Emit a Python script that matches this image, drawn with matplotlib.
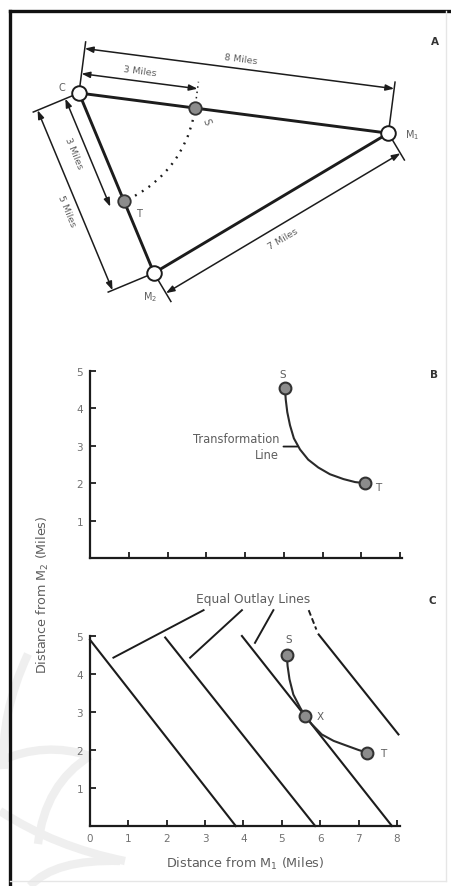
import numpy as np
import matplotlib
matplotlib.use("Agg")
import matplotlib.pyplot as plt
from matplotlib.patches import Arc, PathPatch
from matplotlib.path import Path
from matplotlib.lines import Line2D

# -----------------------------
# Data
# -----------------------------
# panel A: road distances (miles)
dist_c_m1 = 8
dist_c_m2 = 5
dist_m1_m2 = 7
dist_c_s = 3
dist_c_t = 3

# panel B: transformation line (distance from M1, distance from M2)
trans_x = [5.03, 5.05, 5.09, 5.16, 5.26, 5.42, 5.63, 5.89, 6.19, 6.54, 6.84, 7.10]
trans_y = [4.55, 4.24, 3.90, 3.55, 3.20, 2.90, 2.63, 2.42, 2.24, 2.11, 2.03, 2.00]

# panel C: transformation line and equal outlay lines
curve_x = [5.13, 5.15, 5.20, 5.30, 5.48, 5.61, 5.78, 6.04, 6.35, 6.70, 7.00, 7.22]
curve_y = [4.49, 4.21, 3.86, 3.46, 3.11, 2.89, 2.68, 2.41, 2.24, 2.11, 2.00, 1.93]
point_names = ["S", "X", "T"]
point_x = [5.13, 5.61, 7.22]
point_y = [4.49, 2.89, 1.93]

outlay_x0 = [0.0, 1.96, 3.96, 5.96]
outlay_y0 = [4.90, 4.96, 5.00, 5.04]
outlay_x1 = [3.80, 5.87, 7.87, 8.04]
outlay_y1 = [0.0, 0.0, 0.0, 2.41]

leader_x0 = [2.96, 3.96, 4.78, 5.70]
leader_y0 = [5.68, 5.68, 5.68, 5.68]
leader_x1 = [0.61, 2.61, 4.30, 5.90]
leader_y1 = [4.43, 4.43, 4.82, 5.17]

x_ticks = [0, 1, 2, 3, 4, 5, 6, 7, 8]
y_ticks = [1, 2, 3, 4, 5]

# -----------------------------
# Figure setup
# -----------------------------
W, H = 451, 887
fig = plt.figure(figsize=(W / 100, H / 100), dpi=100)
fig.patch.set_facecolor("white")

INK = "#1c1c1c"
TXT = "#5e5e5e"
GRAY_FILL = "#8c8c8c"


def px_axes(x0, y0, x1, y1):
    # pixel box (top-left origin) -> figure axes
    return fig.add_axes([x0 / W, 1 - y1 / H, (x1 - x0) / W, (y1 - y0) / H])


def fig_line(xs, ys, **kw):
    fig.add_artist(Line2D([x / W for x in xs], [1 - y / H for y in ys],
                          transform=fig.transFigure, **kw))


# faint watermark curves (bottom left)
wm_curves = [
    [(28, 655), (0, 715), (4, 770)],
    [(0, 762), (45, 742), (90, 757)],
    [(90, 757), (45, 785), (38, 845)],
    [(0, 812), (55, 848), (125, 862)],
    [(30, 887), (55, 860), (120, 862)],
]
for pts in wm_curves:
    verts = [(x / W, 1 - y / H) for x, y in pts]
    path = Path(verts, [Path.MOVETO, Path.CURVE3, Path.CURVE3])
    fig.add_artist(PathPatch(path, fill=False, ec="#efefef", lw=6,
                             transform=fig.transFigure, zorder=0))

# frame
fig_line([10, 10], [12, 887], color="#111111", lw=2.4)
fig_line([10, 451], [12, 12], color="#111111", lw=2.4)
fig_line([446, 446], [12, 882], color="#e6e6e6", lw=1.0)
fig_line([10, 446], [882, 882], color="#e6e6e6", lw=1.0)

# -----------------------------
# Panel A: road map
# -----------------------------
scale = 39.0  # px per mile
cx, cy = 79, 94  # pixel position of C
axA = px_axes(0, 0, W, 320)
axA.set_xlim(-cx / scale, (W - cx) / scale)
axA.set_ylim(-(320 - cy) / scale, cy / scale)
axA.axis("off")

ang_c_m1 = np.deg2rad(-7.4)
ang_c = np.arccos((dist_c_m1 ** 2 + dist_c_m2 ** 2 - dist_m1_m2 ** 2)
                  / (2 * dist_c_m1 * dist_c_m2))
ang_c_m2 = ang_c_m1 - ang_c

C = np.array([0.0, 0.0])
u1 = np.array([np.cos(ang_c_m1), np.sin(ang_c_m1)])
u2 = np.array([np.cos(ang_c_m2), np.sin(ang_c_m2)])
M1 = C + dist_c_m1 * u1
M2 = C + dist_c_m2 * u2
S = C + dist_c_s * u1
T = C + dist_c_t * u2
w = (M1 - M2) / np.linalg.norm(M1 - M2)

n1 = np.array([-u1[1], u1[0]])   # above C-M1
n2 = np.array([u2[1], -u2[0]])   # left of C-M2
n3 = np.array([w[1], -w[0]])     # below M2-M1

tri = np.array([C, M1, M2, C])
axA.plot(tri[:, 0], tri[:, 1], color=INK, lw=2.1, zorder=2,
         solid_capstyle="round")

# dotted arc from S to T (radius C-S)
axA.add_patch(Arc(C, 2 * dist_c_s, 2 * dist_c_s,
                  theta1=np.degrees(ang_c_m2) + 6, theta2=np.degrees(ang_c_m1) - 5,
                  color=INK, lw=1.7, linestyle=(0, (0.8, 2.6)), zorder=1))


def dim(origin, d, n, length, off, label, lab_along, lab_off, rot):
    a = origin + n * off
    b = origin + d * length + n * off
    axA.annotate("", xy=b, xytext=a,
                 arrowprops=dict(arrowstyle="<|-|>,head_length=0.5,head_width=0.18",
                                 color=INK, lw=1.1, shrinkA=0, shrinkB=0))
    p = origin + d * lab_along + n * lab_off
    axA.text(p[0], p[1], label, rotation=rot, rotation_mode="anchor",
             ha="center", va="center", fontsize=6.8, color=TXT)


def ext(origin, n, a, b, **kw):
    p, q = origin + n * a, origin + n * b
    axA.plot([p[0], q[0]], [p[1], q[1]], color=INK, lw=1.1, **kw)


rot1 = np.degrees(ang_c_m1)
rot2 = np.degrees(ang_c_m2)
rot3 = np.degrees(np.arctan2(w[1], w[0]))

dim(C, u1, n1, dist_c_m1, 1.15, f"{dist_c_m1} Miles", 4.0, 1.40, rot1)
dim(C, u1, n1, dist_c_s, 0.50, f"{dist_c_s} Miles", 1.48, 0.76, rot1)
ext(C, n1, 0.2, 1.32)
ext(M1, n1, 0.2, 1.32)
ext(S, n1, 0.25, 0.68, linestyle=(0, (1, 2.5)))

dim(C, u2, n2, dist_c_t, 0.38, f"{dist_c_t} Miles", 1.35, 0.70, rot2)
dim(C, u2, n2, dist_c_m2, 1.15, f"{dist_c_m2} Miles", 2.65, 1.45, rot2)
ext(C, n2, 0.18, 1.27)
ext(M2, n2, 0.18, 1.27)

dim(M2, w, n3, dist_m1_m2, 0.60, f"{dist_m1_m2} Miles", 3.3, 0.92, rot3)
ext(M2, n3, 0.22, 0.85)
ext(M1, n3, 0.22, 0.80)

axA.plot([C[0], M1[0], M2[0]], [C[1], M1[1], M2[1]], "o", ms=10.5,
         mfc="white", mec=INK, mew=1.4, zorder=5)
axA.plot([S[0], T[0]], [S[1], T[1]], "o", ms=9,
         mfc=GRAY_FILL, mec="#333333", mew=1.3, zorder=5)

lab_kw = dict(fontsize=7, color=TXT, ha="center", va="center")
axA.text(C[0] - 0.44, C[1] + 0.15, "C", **lab_kw)
axA.text(M1[0] + 0.60, M1[1] - 0.02, "M$_1$", **lab_kw)
axA.text(M2[0] - 0.10, M2[1] - 0.60, "M$_2$", **lab_kw)
axA.text(S[0] + 0.28, S[1] - 0.34, "S", rotation=-70, **lab_kw)
axA.text(T[0] + 0.38, T[1] - 0.31, "T", **lab_kw)


# -----------------------------
# Panels B and C: graphs
# -----------------------------
def style_graph(ax, xlabels):
    for side in ["top", "right"]:
        ax.spines[side].set_visible(False)
    for side in ["left", "bottom"]:
        ax.spines[side].set_linewidth(1.6)
        ax.spines[side].set_color(INK)
    ax.set_xticks(x_ticks if xlabels else x_ticks[1:])
    ax.set_yticks(y_ticks)
    ax.tick_params(direction="in", length=4, width=1.3, color=INK,
                   labelsize=7.5, labelcolor="#707070", pad=5)
    if not xlabels:
        ax.set_xticklabels([])
    ax.patch.set_visible(False)


pt_kw = dict(ms=8.5, mfc=GRAY_FILL, mec="#333333", mew=1.5, zorder=5)
name_kw = dict(fontsize=7.5, color=TXT, ha="center", va="center")

# panel B
axB = px_axes(90, 372, 402, 559)
axB.set_xlim(0, 8.05)
axB.set_ylim(0, 5)
style_graph(axB, xlabels=False)
axB.plot(trans_x, trans_y, color="#2a2a2a", lw=1.5, zorder=3)
axB.plot([trans_x[0], trans_x[-1]], [trans_y[0], trans_y[-1]], "o", **pt_kw)
axB.text(trans_x[0] - 0.05, trans_y[0] + 0.38, "S", **name_kw)
axB.text(trans_x[-1] + 0.33, trans_y[-1] - 0.1, "T", **name_kw)
axB.annotate("", xy=(5.42, 2.98), xytext=(4.92, 2.98),
             arrowprops=dict(arrowstyle="-", color=INK, lw=1.3))
axB.text(4.88, 2.98, "Transformation\nLine", ha="right", va="center",
         multialignment="right", fontsize=8.3, color=TXT, linespacing=1.25)

# panel C
axC = px_axes(90, 637, 400, 827)
axC.set_xlim(0, 8.08)
axC.set_ylim(0, 5)
style_graph(axC, xlabels=True)
for x0, y0, x1, y1 in zip(outlay_x0, outlay_y0, outlay_x1, outlay_y1):
    axC.plot([x0, x1], [y0, y1], color=INK, lw=1.5, zorder=2, clip_on=False)
for i, (x0, y0, x1, y1) in enumerate(zip(leader_x0, leader_y0, leader_x1, leader_y1)):
    ls = (0, (3, 1.5)) if i == 3 else "-"
    axC.plot([x0, x1], [y0, y1], color=INK, lw=1.4, ls=ls, clip_on=False)
axC.text(4.26, 6.0, "Equal Outlay Lines", fontsize=8.8, color=TXT,
         ha="center", va="center")
axC.plot(curve_x, curve_y, color="#2a2a2a", lw=1.5, zorder=3)
axC.plot(point_x, point_y, "o", **pt_kw)
name_off = {"S": (0.04, 0.42), "X": (0.40, 0.0), "T": (0.42, 0.0)}
for nm, x, y in zip(point_names, point_x, point_y):
    dx, dy = name_off[nm]
    axC.text(x + dx, y + dy, nm, **name_kw)

# shared axis labels and panel letters
fig.text(43 / W, 1 - 595 / H, "Distance from M$_2$ (Miles)", rotation=90,
         ha="center", va="center", fontsize=9.2, color=TXT)
fig.text(245 / W, 1 - 864 / H, "Distance from M$_1$ (Miles)",
         ha="center", va="center", fontsize=9.2, color=TXT)
for letter, (x, y) in zip(["A", "B", "C"], [(435, 42), (434, 375), (432, 601)]):
    fig.text(x / W, 1 - y / H, letter, ha="center", va="center",
             fontsize=7.5, color="#333333", fontweight="bold")

fig.savefig("out.png", dpi=100, facecolor="white")
